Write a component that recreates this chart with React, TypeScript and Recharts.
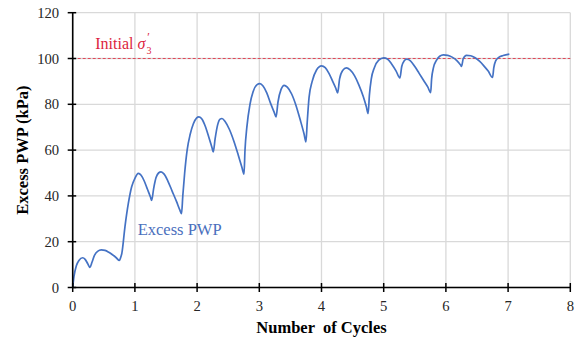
import React from 'react';
import { LineChart, Line, XAxis, YAxis, CartesianGrid, ReferenceLine, ReferenceDot, Label } from 'recharts';

const cycleX: number[] = [
  0, 0.02, 0.06, 0.1, 0.16, 0.2, 0.24, 0.278, 0.31, 0.35, 0.4, 0.46, 0.52, 0.58, 0.64, 0.7, 0.75,
  0.77, 0.79, 0.84, 0.895, 0.948, 1.0, 1.055, 1.1, 1.15, 1.2, 1.25, 1.27, 1.3, 1.34, 1.38, 1.42, 1.47, 1.53, 1.6, 1.67, 1.72, 1.75,
  1.77, 1.8, 1.84, 1.89, 1.94, 1.99, 2.03, 2.08, 2.13, 2.19, 2.24, 2.26, 2.29, 2.33, 2.37, 2.4, 2.45, 2.52, 2.59, 2.66, 2.72, 2.754,
  2.77, 2.8, 2.85, 2.9, 2.96, 3.01, 3.06, 3.12, 3.18, 3.24, 3.27, 3.3, 3.35, 3.4, 3.45, 3.52, 3.59, 3.66, 3.72, 3.75,
  3.77, 3.8, 3.85, 3.92, 4.0, 4.06, 4.12, 4.18, 4.23, 4.26, 4.29, 4.34, 4.4, 4.46, 4.53, 4.6, 4.67, 4.72, 4.75,
  4.77, 4.8, 4.85, 4.92, 5.0, 5.06, 5.13, 5.2, 5.26, 5.29, 5.33, 5.37, 5.43, 5.5, 5.57, 5.64, 5.71, 5.755,
  5.77, 5.8, 5.85, 5.9, 5.96, 6.03, 6.1, 6.18, 6.24, 6.25, 6.28, 6.33, 6.4, 6.47, 6.54, 6.61, 6.68, 6.75,
  6.77, 6.8, 6.85, 6.92, 7.02,
];

const pwpKPa: number[] = [
  0, 4.7, 9.6, 11.8, 13, 12.3, 10.5, 8.8, 11, 14, 15.8, 16.4, 16.2, 15.4, 14.3, 13, 11.8,
  13, 14.9, 26.5, 36.8, 44, 47.7, 49.8, 49, 46.5, 43, 39.5, 38, 43, 48, 50, 50.5, 49.5, 46.5, 42, 37.5, 34, 32.3,
  40, 50, 60, 67, 71.5, 74, 74.5, 73.5, 70.5, 65.5, 61, 59.2, 65, 71, 73.5, 73.8, 72.5, 69, 64, 58, 52.5, 49.5,
  60, 70, 80, 85.5, 88.5, 89, 88, 85, 80.5, 76.5, 74.5, 81, 86.5, 88.3, 87.5, 84.5, 79.5, 73, 67, 63.6,
  72, 83, 90, 95, 96.8, 96, 93.5, 90, 87, 85, 91, 94.8, 95.9, 95, 92.5, 88.5, 83.5, 79, 76,
  84, 91, 96, 99.3, 100.3, 99.8, 97.5, 94.5, 91.5, 96.5, 99, 99.7, 99, 96.5, 93.5, 90.5, 87.5, 85.1,
  91, 96, 99.3, 101, 101.6, 101.4, 100.6, 99, 97, 96.6, 100, 101.4, 101.2, 100.3, 98.8, 96.8, 94.5, 91.7,
  96, 99, 100.5, 101.3, 101.9,
];

const xTicks: number[] = [0, 1, 2, 3, 4, 5, 6, 7, 8];
const yTicks: number[] = [0, 20, 40, 60, 80, 100, 120];
const initialStress: number = 100;
const seriesName = 'Excess PWP';
const xTitle = 'Number  of Cycles';
const yTitle = 'Excess PWP (kPa)';

const data = cycleX.map((x, i) => ({ x, y: pwpKPa[i] }));

const FONT = '"Liberation Serif", "Times New Roman", serif';

const XTick = (props: any) => {
  const { x, y, payload } = props;
  return (
    <g>
      <line x1={x} x2={x} y1={y - 4.5} y2={y + 4.5} stroke="#000" strokeWidth={1.5} />
      <text x={x} y={y + 23} textAnchor="middle" fontFamily={FONT} fontSize={14.67} fill="#262626">
        {payload.value}
      </text>
    </g>
  );
};

const YTick = (props: any) => {
  const { x, y, payload } = props;
  return (
    <g>
      <line x1={x - 5} x2={x + 3.5} y1={y} y2={y} stroke="#000" strokeWidth={1.5} />
      <text x={x - 13.5} y={y + 5} textAnchor="end" fontFamily={FONT} fontSize={14.67} fill="#262626">
        {payload.value}
      </text>
    </g>
  );
};

export default function App() {
  return (
    <div style={{ position: 'absolute', left: 0, top: 0, width: 579, height: 339, background: '#fff' }}>
      <LineChart width={579} height={339} data={data} margin={{ top: 12.7, right: 8.7, left: 0, bottom: 21.5 }}>
        <CartesianGrid stroke="#d9d9d9" strokeWidth={1.3} />
        <XAxis
          dataKey="x"
          type="number"
          domain={[0, 8]}
          ticks={xTicks}
          interval={0}
          height={30}
          tickSize={0}
          tickMargin={0}
          tick={<XTick />}
          axisLine={{ stroke: '#000', strokeWidth: 1.6 }}
          tickLine={false}
        >
          <Label
            content={(p: any) => {
              const vb = p.viewBox;
              return (
                <text x={vb.x + vb.width / 2} y={vb.y + 45.5} textAnchor="middle" fontFamily={FONT} fontSize={16.5} fontWeight="bold" fill="#000" style={{ whiteSpace: 'pre' }}>
                  {xTitle}
                </text>
              );
            }}
          />
        </XAxis>
        <YAxis
          type="number"
          domain={[0, 120]}
          ticks={yTicks}
          interval={0}
          width={72.7}
          tickSize={0}
          tickMargin={0}
          tick={<YTick />}
          axisLine={{ stroke: '#000', strokeWidth: 1.6 }}
          tickLine={false}
        >
          <Label
            content={(p: any) => {
              const vb = p.viewBox;
              const cx = 28.5;
              const cy = vb.y + vb.height / 2;
              return (
                <text x={cx} y={cy} transform={`rotate(-90 ${cx} ${cy})`} textAnchor="middle" fontFamily={FONT} fontSize={16.5} fontWeight="bold" fill="#000">
                  {yTitle}
                </text>
              );
            }}
          />
        </YAxis>
        <ReferenceLine y={initialStress} stroke="#e04858" strokeWidth={1} strokeDasharray="3 2" />
        <Line type="monotone" dataKey="y" stroke="#4472c4" strokeWidth={1.7} dot={false} isAnimationActive={false} />
        <ReferenceDot
          x={0.363}
          y={104}
          r={0}
          shape={(p: any) => (
            <text x={p.cx} y={p.cy} fontFamily={FONT} fontSize={16} fill="#dc1e3c">
              Initial <tspan fontStyle="italic">σ</tspan>
              <tspan fontSize={10} dx={1} dy={5}>3</tspan>
              <tspan fontSize={12} fontStyle="italic" dx={-5} dy={-13.5}>′</tspan>
            </text>
          )}
        />
        <ReferenceDot
          x={1.045}
          y={22.9}
          r={0}
          shape={(p: any) => (
            <text x={p.cx} y={p.cy} fontFamily={FONT} fontSize={16.5} fill="#4a6fbd">
              {seriesName}
            </text>
          )}
        />
      </LineChart>
    </div>
  );
}
